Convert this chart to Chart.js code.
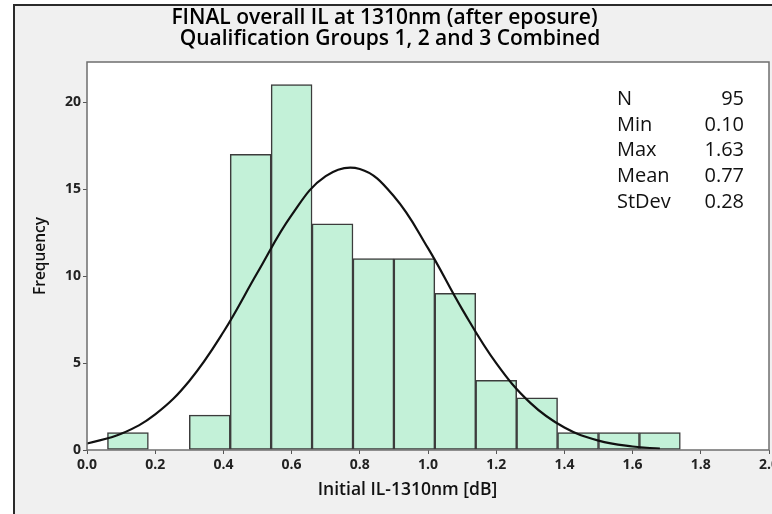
<!DOCTYPE html>
<html>
<head>
<meta charset="utf-8">
<script src="https://cdn.jsdelivr.net/npm/chart.js@4/dist/chart.umd.min.js"></script>
<style>
  html, body { margin: 0; padding: 0; background: #fff; }
  #frame { position: absolute; left: 13px; top: 4px; width: 780px; height: 540px;
           background: #f0f0f0; border-left: 2px solid #2a2a2a; border-top: 2px solid #2a2a2a; }
  #wrap { position: absolute; left: 0; top: 0; width: 772px; height: 514px; }
</style>
</head>
<body>
<div id="frame"></div>
<div id="wrap"><canvas id="myChart" width="772" height="514"></canvas></div>
<script>
// Datos del histograma
const binCenters = [0.12, 0.24, 0.36, 0.48, 0.60, 0.72, 0.84, 0.96, 1.08, 1.20, 1.32, 1.44, 1.56, 1.68];
const counts = [1, 0, 2, 17, 21, 13, 11, 11, 9, 4, 3, 1, 1, 1];

// Curva normal
const curveX = [0, 0.1, 0.2, 0.3, 0.4, 0.5, 0.6, 0.7, 0.8, 0.9, 1.0, 1.1, 1.2, 1.3, 1.4, 1.5, 1.6, 1.68];
const curveY = [0.37, 0.93, 2.05, 3.97, 6.78, 10.2, 13.5, 15.74, 16.15, 14.58, 11.6, 8.1, 4.99, 2.71, 1.29, 0.54, 0.2, 0.08];

// Cuadro de estadisticas
const statNames = ['N', 'Min', 'Max', 'Mean', 'StDev'];
const statValues = ['95', '0.10', '1.63', '0.77', '0.28'];

const yTicks = [0, 5, 10, 15, 20];

const tickFont = { family: 'Open Sans', size: 14, weight: 'bold' };

//Fondo blanco del area de trazado y marco
const plotArea = {
  id: 'plotArea',
  beforeDraw(chart) {
    const { ctx, chartArea: a } = chart;
    ctx.save();
    ctx.fillStyle = '#fff';
    ctx.fillRect(a.left, a.top, a.right - a.left, a.bottom - a.top);
    ctx.restore();
  },
  afterDraw(chart) {
    const { ctx, chartArea: a } = chart;
    ctx.save();
    ctx.strokeStyle = '#6e6e6e';
    ctx.lineWidth = 1.5;
    ctx.strokeRect(a.left, a.top, a.right - a.left, a.bottom - a.top);
    // estadisticas
    ctx.fillStyle = '#111';
    ctx.font = '20px "Open Sans"';
    ctx.textBaseline = 'middle';
    statNames.forEach((n, i) => {
      const y = 99 + i * 25.8;
      ctx.textAlign = 'left';
      ctx.fillText(n, 617, y);
      ctx.textAlign = 'right';
      ctx.fillText(statValues[i], 744, y);
    });
    ctx.restore();
  }
};

const data = {
  datasets: [{
    type: 'line',
    data: curveX.map((x, i) => ({ x: x, y: curveY[i] })),
    borderColor: '#111',
    borderWidth: 2.2,
    pointRadius: 0,
    tension: 0.4,
    fill: false,
    order: 0
  }, {
    type: 'bar',
    data: binCenters.map((x, i) => ({ x: x, y: counts[i] })),
    backgroundColor: '#c3f1d8',
    borderColor: '#3c3c3c',
    borderWidth: 1.5,
    borderSkipped: false,
    barPercentage: 1,
    categoryPercentage: 1,
    order: 1
  }]
};

const config = {
  type: 'bar',
  data: data,
  plugins: [plotArea],
  options: {
    responsive: false,
    animation: false,
    layout: { padding: { left: 0, right: 3, top: 0, bottom: 0 } },
    plugins: {
      legend: { display: false },
      tooltip: { enabled: false },
      title: {
        display: true,
        text: ['FINAL overall IL at 1310nm (after eposure)', '  Qualification Groups 1, 2 and 3 Combined'],
        color: '#000',
        font: { family: 'Open Sans', size: 21, weight: '600', lineHeight: 1.0 },
        padding: { top: 8, bottom: 12 }
      }
    },
    scales: {
      x: {
        type: 'linear',
        min: 0,
        max: 2.0,
        offset: false,
        grid: { offset: false, drawOnChartArea: false, drawTicks: true, tickLength: 4, color: '#555' },
        border: { display: false },
        ticks: {
          stepSize: 0.2,
          color: '#222',
          font: tickFont,
          padding: 3,
          maxRotation: 0,
          autoSkip: false,
          callback: v => v.toFixed(1)
        },
        title: {
          display: true,
          text: 'Initial IL-1310nm [dB]         ',
          color: '#111',
          font: { family: 'Open Sans', size: 17.5, weight: '600' },
          padding: { top: 0, bottom: 13.5 }
        },
        afterFit: s => { s.height = 64; s.paddingLeft = 0; s.paddingRight = 0; }
      },
      y: {
        min: 0,
        max: 22.3,
        grid: { drawOnChartArea: false, drawTicks: true, tickLength: 4, color: '#555' },
        border: { display: false },
        afterBuildTicks: s => { s.ticks = yTicks.map(v => ({ value: v })); },
        ticks: {
          color: '#222',
          font: tickFont,
          padding: 2
        },
        title: {
          display: true,
          text: 'Frequency',
          color: '#111',
          font: { family: 'Open Sans', size: 15.5, weight: '600' },
          padding: { top: 31, bottom: 0 }
        },
        afterFit: s => { s.width = 87; s.paddingTop = 0; s.paddingBottom = 0; }
      }
    }
  }
};

const myChart = new Chart(document.getElementById('myChart').getContext('2d'), config);
</script>
</body>
</html>
